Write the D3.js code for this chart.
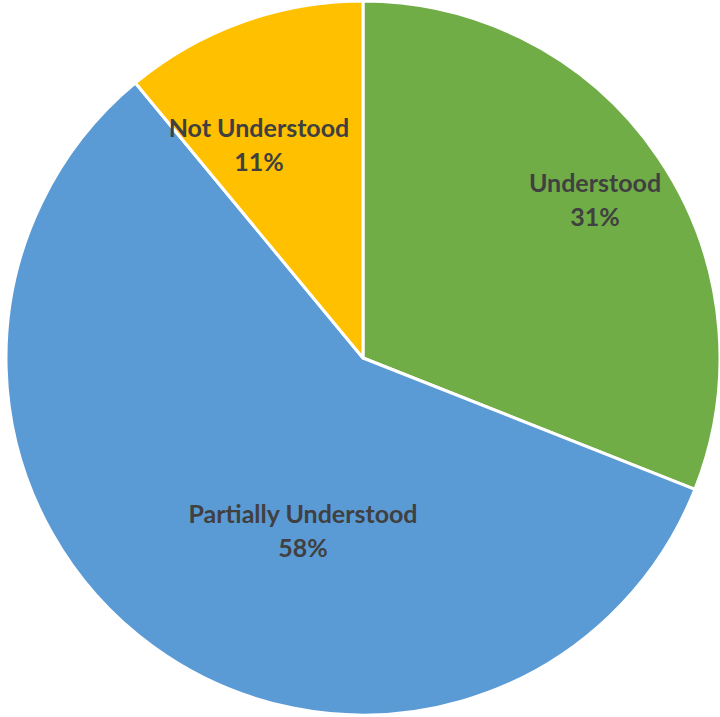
<!DOCTYPE html>
<html>
<head>
<meta charset="utf-8">
<script src="https://cdn.jsdelivr.net/npm/d3@7"></script>
<style>
  html, body { margin: 0; padding: 0; background: #fff; }
  svg { display: block; }
</style>
</head>
<body>
<svg id="chart" width="720" height="717"></svg>
<script>
// Survey responses, share of total (%)
const categories = ["Understood", "Partially Understood", "Not Understood"];
const values = [31, 58, 11];
const colors = ["#70AD47", "#5B9BD5", "#FFC000"];

// Label anchors relative to the pie centre (px)
const labelOffsets = [[232, -166], [-60, 165], [-104, -221]];

const width = 720, height = 717;
const cx = 363, cy = 358, radius = 357;

const svg = d3.select("#chart");
const g = svg.append("g").attr("transform", `translate(${cx},${cy})`);

const data = categories.map((c, i) => ({ name: c, value: values[i], color: colors[i], off: labelOffsets[i] }));

const pie = d3.pie().sort(null).value(d => d.value);
const arc = d3.arc().innerRadius(0).outerRadius(radius);

const arcs = pie(data);

g.selectAll("path.slice")
  .data(arcs)
  .join("path")
  .attr("class", "slice")
  .attr("d", arc)
  .attr("fill", d => d.data.color)
  .attr("stroke", "#fff")
  .attr("stroke-width", 3)
  .attr("stroke-linejoin", "round");

const labels = g.selectAll("g.label")
  .data(arcs)
  .join("g")
  .attr("class", "label")
  .attr("transform", d => `translate(${d.data.off[0]},${d.data.off[1]})`);

labels.append("text")
  .attr("text-anchor", "middle")
  .attr("font-family", "Lato, 'Open Sans', sans-serif")
  .attr("font-weight", "bold")
  .attr("font-size", 25)
  .attr("fill", "#404040")
  .attr("y", 0)
  .text(d => d.data.name);

labels.append("text")
  .attr("text-anchor", "middle")
  .attr("font-family", "Lato, 'Open Sans', sans-serif")
  .attr("font-weight", "bold")
  .attr("font-size", 25)
  .attr("fill", "#404040")
  .attr("y", 34)
  .text(d => Math.round(d.value) + "%");
</script>
</body>
</html>
